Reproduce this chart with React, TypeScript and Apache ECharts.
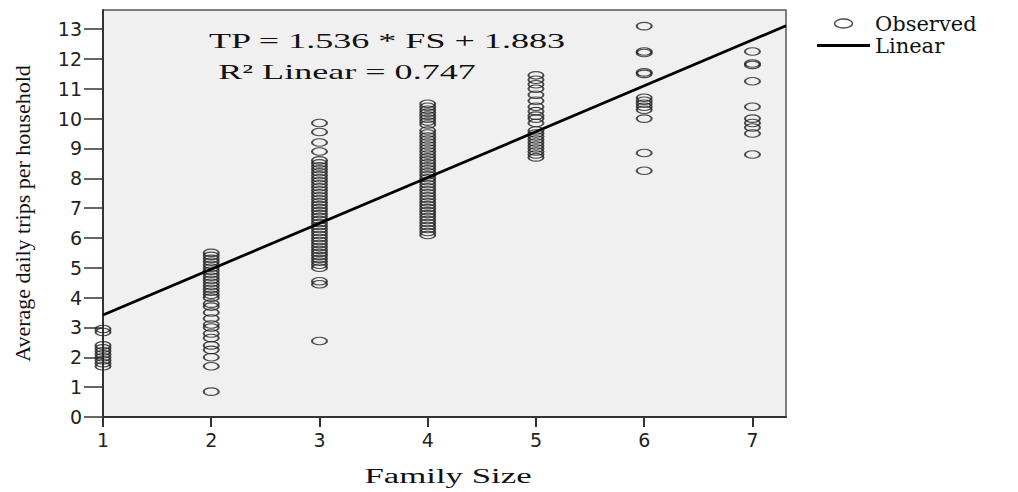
import React, { useEffect, useRef } from "react";
import * as echarts from "echarts";

// Family size categories (x) and observed average daily trips per household (y)
const familySizes = [1, 2, 3, 4, 5, 6, 7];
const tripsFS1 = [2.95, 2.85, 2.4, 2.3, 2.2, 2.1, 2.0, 1.9, 1.8, 1.7];
const tripsFS2 = [5.5, 5.4, 5.3, 5.2, 5.1, 5.0, 4.9, 4.8, 4.7, 4.6, 4.5, 4.4, 4.3, 4.2, 4.1, 4.0, 3.8, 3.7, 3.5, 3.3, 3.1, 3.0, 2.8, 2.65, 2.4, 2.25, 2.0, 1.7, 0.85];
const tripsFS3 = [9.85, 9.55, 9.2, 8.9, 8.6, 8.5, 8.4, 8.3, 8.2, 8.1, 8.0, 7.9, 7.8, 7.7, 7.6, 7.5, 7.4, 7.3, 7.2, 7.1, 7.0, 6.9, 6.8, 6.7, 6.6, 6.5, 6.4, 6.3, 6.2, 6.1, 6.0, 5.9, 5.8, 5.7, 5.6, 5.5, 5.4, 5.3, 5.2, 5.1, 5.0, 4.55, 4.45, 2.55];
const tripsFS4 = [10.5, 10.4, 10.3, 10.2, 10.1, 10.0, 9.9, 9.8, 9.6, 9.5, 9.4, 9.3, 9.2, 9.1, 9.0, 8.9, 8.8, 8.7, 8.6, 8.5, 8.4, 8.3, 8.2, 8.1, 8.0, 7.9, 7.8, 7.7, 7.6, 7.5, 7.4, 7.3, 7.2, 7.1, 7.0, 6.9, 6.8, 6.7, 6.6, 6.5, 6.4, 6.3, 6.2, 6.1];
const tripsFS5 = [11.45, 11.3, 11.15, 11.0, 10.8, 10.6, 10.4, 10.25, 10.1, 10.0, 9.85, 9.6, 9.5, 9.4, 9.3, 9.2, 9.1, 9.0, 8.9, 8.8, 8.7];
const tripsFS6 = [13.1, 12.25, 12.2, 11.55, 11.5, 10.7, 10.6, 10.5, 10.4, 10.3, 10.0, 8.85, 8.25];
const tripsFS7 = [12.25, 11.85, 11.8, 11.25, 10.4, 10.0, 9.85, 9.7, 9.5, 8.8];
const observedByFamilySize = [tripsFS1, tripsFS2, tripsFS3, tripsFS4, tripsFS5, tripsFS6, tripsFS7];

// Tick labels
const xTicks = [1, 2, 3, 4, 5, 6, 7];
const yTicks = [0, 1, 2, 3, 4, 5, 6, 7, 8, 9, 10, 11, 12, 13];

// Fitted regression (as printed on the chart)
const SLOPE = 1.536;
const INTERCEPT = 1.883;
const equationText = "TP = 1.536 * FS + 1.883";
const r2Text = "R\u00B2 Linear = 0.747";

const X_MIN = 1;
const X_MAX = 7.31;
const Y_MIN = 0;
const Y_MAX = 13.64;

const ELLIPSE = "path://M0,5A10,5 0 1,1 20,5A10,5 0 1,1 0,5Z";
const LINE_ICON = "path://M0,0H53V3H0Z";

export default function App() {
  const ref = useRef<HTMLDivElement>(null);

  useEffect(() => {
    if (!ref.current) return;
    const chart = echarts.init(ref.current, null, { renderer: "svg" });

    const scatterData: number[][] = [];
    familySizes.forEach((fs, i) => {
      observedByFamilySize[i].forEach((v) => scatterData.push([fs, v]));
    });
    const lineData = [
      [X_MIN, SLOPE * X_MIN + INTERCEPT],
      [X_MAX, SLOPE * X_MAX + INTERCEPT],
    ];

    const tickFont = { fontFamily: "DejaVu Sans", fontSize: 19, color: "#222" };

    chart.setOption({
      animation: false,
      backgroundColor: "#ffffff",
      grid: {
        left: 103,
        right: 232,
        top: 10,
        bottom: 75,
        show: true,
        backgroundColor: "#f0f0f0",
        borderColor: "#555",
        borderWidth: 1.5,
        containLabel: false,
        outerBoundsMode: "none",
      },
      legend: {
        orient: "vertical",
        left: 812,
        top: 8,
        itemWidth: 53,
        itemHeight: 9,
        itemGap: 1,
        selectedMode: false,
        symbolKeepAspect: true,
        textStyle: { fontFamily: "DejaVu Serif", fontSize: 21, color: "#111" },
        data: [
          { name: "Observed", icon: ELLIPSE, itemStyle: { color: "rgba(0,0,0,0)", borderColor: "#222", borderWidth: 1.5 } },
          { name: "Linear", icon: LINE_ICON, itemStyle: { color: "#000", borderWidth: 0 } },
        ],
      },
      xAxis: {
        type: "value",
        min: X_MIN,
        max: X_MAX,
        axisLine: { show: true, onZero: false, lineStyle: { color: "#333", width: 2 } },
        axisTick: { show: true, length: 10, customValues: xTicks, lineStyle: { color: "#333", width: 2 } },
        axisLabel: { customValues: xTicks, margin: 13, ...tickFont },
        splitLine: { show: false },
      },
      yAxis: {
        type: "value",
        min: Y_MIN,
        max: Y_MAX,
        name: "Average daily trips per household",
        nameLocation: "middle",
        nameGap: 70,
        nameTextStyle: { fontFamily: "Liberation Serif", fontSize: 22, color: "#111" },
        axisLine: { show: true, onZero: false, lineStyle: { color: "#333", width: 2 } },
        axisTick: { show: true, length: 19, customValues: yTicks, lineStyle: { color: "#333", width: 1.5 } },
        axisLabel: { customValues: yTicks, margin: 21, ...tickFont },
        splitLine: { show: false },
      },
      graphic: [
        {
          type: "text",
          x: 387,
          y: 40,
          scaleX: 1.64,
          silent: true,
          style: {
            text: equationText,
            fontFamily: "Liberation Serif",
            fontSize: 22,
            fill: "#111",
            align: "center",
            verticalAlign: "middle",
            textAlign: "center",
            textVerticalAlign: "middle",
          },
        },
        {
          type: "text",
          x: 347,
          y: 71,
          scaleX: 1.64,
          silent: true,
          style: {
            text: r2Text,
            fontFamily: "Liberation Serif",
            fontSize: 22,
            fill: "#111",
            align: "center",
            verticalAlign: "middle",
            textAlign: "center",
            textVerticalAlign: "middle",
          },
        },
        {
          type: "text",
          x: 448,
          y: 476,
          scaleX: 1.74,
          silent: true,
          style: {
            text: "Family Size",
            fontFamily: "Liberation Serif",
            fontSize: 20,
            fill: "#111",
            align: "center",
            verticalAlign: "middle",
            textAlign: "center",
            textVerticalAlign: "middle",
          },
        },
      ],
      series: [
        {
          name: "Observed",
          type: "scatter",
          data: scatterData,
          symbol: ELLIPSE,
          symbolSize: [15, 7.5],
          itemStyle: { color: "rgba(0,0,0,0)", borderColor: "#222", borderWidth: 1.5 },
          emphasis: { disabled: true },
          silent: true,
          z: 2,
        },
        {
          name: "Linear",
          type: "line",
          data: lineData,
          symbol: "none",
          showSymbol: false,
          lineStyle: { color: "#000", width: 2.8 },
          itemStyle: { color: "#000" },
          emphasis: { disabled: true },
          silent: true,
          z: 3,
        },
      ],
    });

    return () => chart.dispose();
  }, []);

  return (
    <div
      ref={ref}
      style={{ position: "fixed", left: 0, top: 0, width: 1018, height: 492, background: "#fff" }}
    />
  );
}
